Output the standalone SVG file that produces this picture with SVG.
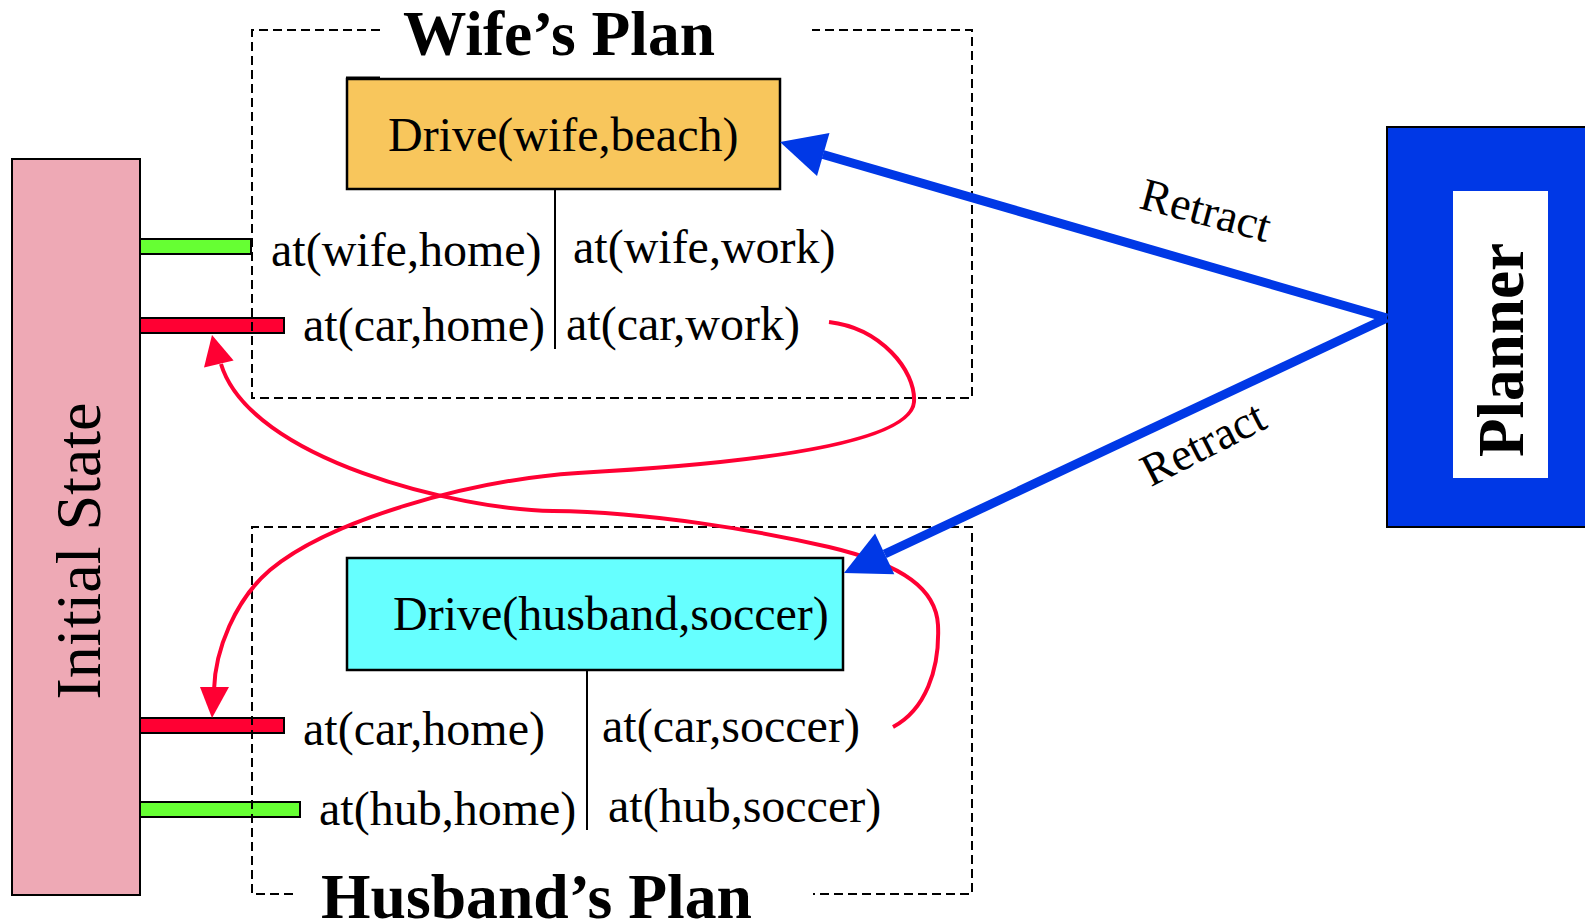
<svg xmlns="http://www.w3.org/2000/svg" width="1585" height="922" viewBox="0 0 1585 922">
<defs>
<style>
.lbl{font-family:"Liberation Serif","Times New Roman",serif;font-size:48px;fill:#000}
.ttl{font-family:"Liberation Serif","Times New Roman",serif;font-size:64px;font-weight:bold;fill:#000}
.dash{fill:none;stroke:#000;stroke-width:2;stroke-dasharray:9 5}
.bar{stroke:#000;stroke-width:2}
.red{fill:none;stroke:#FF0033;stroke-width:4}
.blue{fill:none;stroke:#0038E6;stroke-width:9}
.ret{font-family:"Liberation Serif","Times New Roman",serif;font-size:46px;fill:#000}
</style>
</defs>
<rect width="1585" height="922" fill="#fff"/>

<g id="initial-state">
<rect x="12" y="159" width="128" height="736" fill="#EEA9B5" stroke="#000" stroke-width="2"/>
<text class="lbl" transform="translate(100,551) rotate(-90)" text-anchor="middle" style="font-size:64px" textLength="297" lengthAdjust="spacingAndGlyphs">Initial State</text>
</g>

<g id="bars">
<rect class="bar" x="140" y="239" width="111" height="15" fill="#66FF33"/>
<rect class="bar" x="140" y="318" width="144" height="15" fill="#FF0033"/>
<rect class="bar" x="140" y="718" width="144" height="15" fill="#FF0033"/>
<rect class="bar" x="140" y="802" width="160" height="15" fill="#66FF33"/>
</g>

<g id="wife-plan">
<path class="dash" d="M380,30 H252 V398 H972 V30 H812"/>
<text class="ttl" x="403" y="55" textLength="312" lengthAdjust="spacingAndGlyphs">Wife’s Plan</text>
<rect x="347" y="79" width="433" height="110" fill="#F8C65C" stroke="#000" stroke-width="2.5"/>
<line x1="346" y1="77.5" x2="380" y2="77.5" stroke="#000" stroke-width="2"/>
<text class="lbl" x="388" y="151">Drive(wife,beach)</text>
<line x1="555" y1="189" x2="555" y2="349" stroke="#000" stroke-width="2"/>
<text class="lbl" x="271" y="266">at(wife,home)</text>
<text class="lbl" x="573" y="263">at(wife,work)</text>
<text class="lbl" x="303" y="341">at(car,home)</text>
<text class="lbl" x="566" y="340">at(car,work)</text>
</g>

<g id="husband-plan">
<path class="dash" d="M293,894 H252 V527 H972 V894 H813"/>
<text class="ttl" x="321" y="918" textLength="431" lengthAdjust="spacingAndGlyphs">Husband’s Plan</text>
<rect x="347" y="558" width="496" height="112" fill="#66FFFF" stroke="#000" stroke-width="2.5"/>
<text class="lbl" x="393" y="630">Drive(husband,soccer)</text>
<line x1="587" y1="670" x2="587" y2="830" stroke="#000" stroke-width="2"/>
<text class="lbl" x="303" y="745">at(car,home)</text>
<text class="lbl" x="602" y="742">at(car,soccer)</text>
<text class="lbl" x="319" y="825">at(hub,home)</text>
<text class="lbl" x="608" y="822">at(hub,soccer)</text>
</g>

<g id="planner">
<rect x="1387" y="127" width="210" height="400" fill="#0038E6" stroke="#000" stroke-width="2"/>
<rect x="1453" y="191" width="95" height="287" fill="#fff"/>
<text class="ttl" transform="translate(1523,350) rotate(-90)" text-anchor="middle" style="font-size:66px" textLength="214" lengthAdjust="spacingAndGlyphs">Planner</text>
</g>

<g id="connectors">
<path class="red" d="M829,322 C880,328 916,370 914,402 C911,440 780,462 578,473 C470,480 330,520 270,570 C235,600 215,650 214,690"/>
<polygon points="212,718 200,687 229,687" fill="#FF0033"/>
<path class="red" d="M893,727 C925,710 940,670 938,625 C936,590 905,565 829,547 C760,531 650,512 553,511 C460,510 250,460 221,364"/>
<polygon points="212,335 204,367.5 233.6,360.5" fill="#FF0033"/>
<line class="blue" x1="1387" y1="318" x2="823" y2="154.5"/>
<polygon points="780,142 817,176 829.5,133" fill="#0038E6"/>
<line class="blue" x1="1387" y1="318" x2="884.7" y2="554"/>
<polygon points="844,573 894.3,574.3 875.1,533.5" fill="#0038E6"/>
<text class="ret" transform="translate(1202,225) rotate(15)" text-anchor="middle">Retract</text>
<text class="ret" transform="translate(1210,457) rotate(-27)" text-anchor="middle">Retract</text>
</g>
</svg>
